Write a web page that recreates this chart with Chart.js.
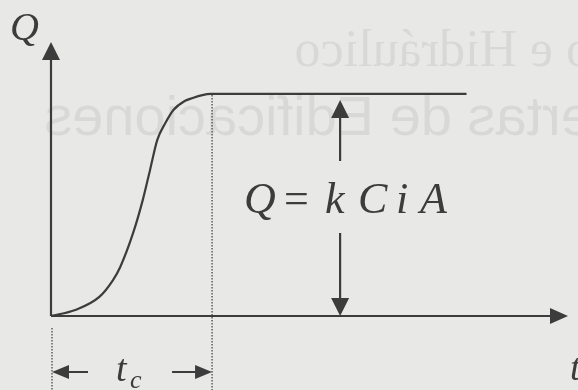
<!DOCTYPE html>
<html>
<head>
<meta charset="utf-8">
<script src="https://cdn.jsdelivr.net/npm/chart.js@4.4.0/dist/chart.umd.min.js"></script>
<style>
  html, body { margin: 0; padding: 0; background: #e8e8e6; }
  #wrap { width: 578px; height: 390px; }
</style>
</head>
<body>
<div id="wrap"><canvas id="hydro" width="578" height="390"></canvas></div>
<script>
// hidrograma del metodo racional (t en unidades de tc, Q en unidades de Qmax)
const timeValues = [0, 0.15, 0.30, 0.385, 0.43, 0.51, 0.57, 0.615, 0.66, 0.71, 0.76, 0.83, 0.88, 0.94, 0.99, 2.58];
const flowValues = [0, 0.027, 0.086, 0.162, 0.221, 0.374, 0.523, 0.658, 0.793, 0.869, 0.928, 0.968, 0.982, 0.995, 1, 1];
const tc = 1;
const peakQ = 1;
const formulaAt = 1.795;   // posicion de la flecha doble
const formulaText = ["Q", "=", "k", "C", "i", "A"];
const bleedLines = ["o e Hidráulico", "ertas de Edificaciones"];

const ink = "#3c3c3c";

function arrowHead(ctx, tipX, tipY, dir, len, half) {
    ctx.beginPath();
    if (dir == "up") {
        ctx.moveTo(tipX, tipY); ctx.lineTo(tipX - half, tipY + len); ctx.lineTo(tipX + half, tipY + len);
    } else if (dir == "down") {
        ctx.moveTo(tipX, tipY); ctx.lineTo(tipX - half, tipY - len); ctx.lineTo(tipX + half, tipY - len);
    } else if (dir == "right") {
        ctx.moveTo(tipX, tipY); ctx.lineTo(tipX - len, tipY - half); ctx.lineTo(tipX - len, tipY + half);
    } else {
        ctx.moveTo(tipX, tipY); ctx.lineTo(tipX + len, tipY - half); ctx.lineTo(tipX + len, tipY + half);
    }
    ctx.closePath();
    ctx.fill();
}

// texto que se transparenta de la otra cara de la hoja (espejado)
const bleedPlugin = {
    id: "bleed",
    beforeDraw(chart) {
        const ctx = chart.ctx;
        ctx.save();
        ctx.fillStyle = "rgba(0,0,0,0.065)";
        ctx.textBaseline = "alphabetic";
        ctx.textAlign = "left";

        ctx.save();
        ctx.translate(592, 66);
        ctx.scale(-1, 1);
        ctx.font = "52px 'Liberation Serif'";
        ctx.fillText(bleedLines[0], 0, 0);
        ctx.restore();

        ctx.save();
        ctx.translate(592, 135);
        ctx.scale(-1, 1);
        ctx.font = "56px 'Liberation Sans'";
        ctx.fillText(bleedLines[1], 0, 0);
        ctx.restore();

        ctx.restore();
    }
};

const sketchPlugin = {
    id: "sketch",
    afterDatasetsDraw(chart) {
        const ctx = chart.ctx;
        const x = chart.scales.x, y = chart.scales.y;
        const x0 = x.getPixelForValue(0), y0 = y.getPixelForValue(0);
        const xEnd = x.getPixelForValue(x.max), yEnd = y.getPixelForValue(y.max);
        const xTc = x.getPixelForValue(tc), yPeak = y.getPixelForValue(peakQ);
        const bottom = chart.height;

        ctx.save();
        ctx.strokeStyle = ink;
        ctx.fillStyle = ink;

        // ejes
        ctx.lineWidth = 2.2;
        ctx.beginPath();
        ctx.moveTo(x0, y0); ctx.lineTo(x0, yEnd + 12);
        ctx.moveTo(x0, y0); ctx.lineTo(xEnd - 12, y0);
        ctx.stroke();
        arrowHead(ctx, x0, yEnd, "up", 18, 9);
        arrowHead(ctx, xEnd, y0, "right", 18, 8);

        // lineas punteadas
        ctx.lineWidth = 1.2;
        ctx.setLineDash([1.5, 1.5]);
        ctx.beginPath();
        ctx.moveTo(xTc, yPeak + 1); ctx.lineTo(xTc, bottom);
        ctx.moveTo(x0 + 1, y0 + 12); ctx.lineTo(x0 + 1, bottom);
        ctx.stroke();
        ctx.setLineDash([]);

        // cota tc
        const yc = 372;
        ctx.lineWidth = 2;
        ctx.beginPath();
        ctx.moveTo(x0 + 14, yc); ctx.lineTo(x0 + 37, yc);
        ctx.moveTo(xTc - 40, yc); ctx.lineTo(xTc - 14, yc);
        ctx.stroke();
        arrowHead(ctx, x0 + 1, yc, "left", 17, 7);
        arrowHead(ctx, xTc, yc, "right", 17, 7);

        // flecha doble Q
        const xf = x.getPixelForValue(formulaAt);
        ctx.lineWidth = 2.2;
        ctx.beginPath();
        ctx.moveTo(xf, yPeak + 20); ctx.lineTo(xf, 161);
        ctx.moveTo(xf, 233); ctx.lineTo(xf, y0 - 16);
        ctx.stroke();
        arrowHead(ctx, xf, yPeak + 6, "up", 18, 9);
        arrowHead(ctx, xf, y0, "down", 18, 9);

        // textos
        ctx.textBaseline = "alphabetic";
        ctx.textAlign = "left";
        ctx.font = "italic 40px 'Liberation Serif'";
        ctx.fillText("Q", 10, 40);
        ctx.font = "italic 38px 'Liberation Serif'";
        ctx.fillText("t", 570, 380);
        ctx.fillText("t", 116, 381);
        ctx.font = "italic 26px 'Liberation Serif'";
        ctx.fillText("c", 130, 388);

        // Q = k C i A
        const slots = [244, 284, 325, 358, 396, 420];
        formulaText.forEach(function (part, i) {
            ctx.font = (part == "=" ? "" : "italic ") + "44px 'Liberation Serif'";
            ctx.fillText(part, slots[i], 213);
        });
        ctx.restore();
    }
};

new Chart(document.getElementById("hydro"), {
    type: "line",
    data: {
        datasets: [{
            data: timeValues.map(function (t, i) { return { x: t, y: flowValues[i] }; }),
            borderColor: ink,
            borderWidth: 2.2,
            pointRadius: 0,
            fill: false,
            cubicInterpolationMode: "monotone"
        }]
    },
    options: {
        responsive: false,
        animation: false,
        layout: { padding: { left: 51, right: 10, top: 42, bottom: 74 } },
        plugins: { legend: { display: false }, tooltip: { enabled: false } },
        scales: {
            x: { type: "linear", min: 0, max: 3.21, display: false },
            y: { type: "linear", min: 0, max: 1.234, display: false }
        }
    },
    plugins: [bleedPlugin, sketchPlugin]
});
</script>
</body>
</html>
